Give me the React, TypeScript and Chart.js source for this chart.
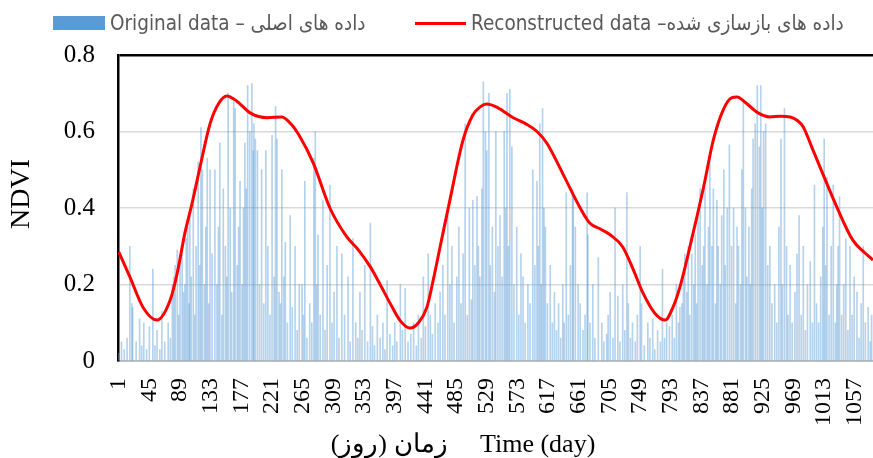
import React, { useEffect, useRef } from 'react';
import { Chart, registerables } from 'chart.js';

Chart.register(...registerables);

// ---- data ----
const xTickLabels = [1, 45, 89, 133, 177, 221, 265, 309, 353, 397, 441, 485, 529, 573, 617, 661, 705, 749, 793, 837, 881, 925, 969, 1013, 1057];

const legendLabels = ['Original data – داده های اصلی', 'Reconstructed data –داده های بازسازی شده'];
const yTitle = 'NDVI';
const xTitle = 'زمان (روز)     Time (day)';

// Original (observed) NDVI, day -> value
const origDays = [
  1, 5, 9, 13, 17, 20, 21, 26, 31, 34, 37, 41, 45, 50, 53, 56, 60, 63, 67, 72, 75, 78, 80, 82, 85, 87, 89, 92, 94, 96, 98,
  100, 102, 103, 105, 108, 110, 112, 115, 117, 119, 121, 124, 126, 128, 130, 132, 135, 139, 142, 144, 146, 149, 151, 154,
  156, 158, 161, 163, 166, 168, 171, 173, 175, 178, 180, 182, 184, 186, 189, 192, 194, 195, 197, 200, 203, 206, 209, 212,
  215, 218, 221, 224, 226, 228, 231, 233, 235, 238, 240, 243, 247, 250, 254, 257, 260, 264, 266, 268, 271, 275, 278, 281,
  283, 285, 287, 290, 294, 297, 300, 304, 307, 310, 314, 317, 321, 325, 330, 333, 337, 341, 344, 347, 350, 354, 358, 362,
  365, 368, 372, 376, 380, 383, 386, 390, 394, 397, 400, 405, 408, 412, 416, 420, 424, 428, 431, 435, 438, 441, 445, 448,
  451, 455, 459, 462, 466, 469, 473, 476, 479, 482, 486, 489, 492, 495, 498, 501, 504, 507, 509, 512, 515, 517, 519, 522,
  524, 527, 529, 532, 534, 537, 540, 542, 545, 548, 551, 554, 556, 558, 560, 562, 565, 568, 572, 575, 578, 581, 584, 588,
  591, 595, 598, 601, 603, 605, 607, 609, 611, 613, 616, 620, 623, 626, 629, 632, 635, 638, 640, 643, 646, 649, 652, 653,
  656, 660, 663, 667, 670, 673, 674, 677, 681, 684, 689, 694, 697, 701, 703, 706, 710, 713, 717, 720, 724, 727, 730, 732,
  735, 738, 742, 745, 749, 751, 755, 760, 763, 767, 770, 774, 778, 781, 784, 787, 791, 795, 798, 801, 804, 806, 809, 811,
  813, 816, 818, 820, 823, 826, 828, 830, 832, 835, 838, 840, 842, 845, 847, 849, 852, 854, 857, 859, 861, 864, 866, 869,
  871, 874, 877, 880, 883, 886, 888, 890, 893, 895, 897, 900, 902, 905, 907, 909, 911, 914, 917, 920, 922, 924, 926, 929,
  932, 935, 938, 942, 945, 948, 951, 953, 956, 959, 961, 964, 967, 971, 974, 977, 980, 983, 986, 989, 993, 996, 999, 1002,
  1005, 1008, 1011, 1013, 1015, 1017, 1020, 1023, 1026, 1029, 1031, 1033, 1035, 1038, 1041, 1044, 1047, 1050, 1053, 1056,
  1060, 1063, 1066, 1069, 1072, 1076, 1079, 1081,
];
const origValues = [
  0.02, 0.05, 0.03, 0.06, 0.30, 0.15, 0.14, 0.05, 0.11, 0.04, 0.10, 0.03, 0.09, 0.24, 0.04, 0.08, 0.03, 0.13, 0.05, 0.10, 0.06, 0.20, 0.22, 0.25, 0.29, 0.12, 0.26, 0.28, 0.18, 0.20, 0.32,
  0.35, 0.15, 0.38, 0.22, 0.45, 0.12, 0.30, 0.52, 0.25, 0.61, 0.50, 0.20, 0.35, 0.53, 0.15, 0.50, 0.28, 0.50, 0.20, 0.35, 0.57, 0.12, 0.45, 0.30,
  0.22, 0.70, 0.40, 0.18, 0.69, 0.66, 0.25, 0.35, 0.47, 0.20, 0.40, 0.57, 0.45, 0.72, 0.60, 0.725, 0.55, 0.62, 0.58, 0.55, 0.20, 0.50, 0.15, 0.55,
  0.30, 0.12, 0.59, 0.22, 0.665, 0.58, 0.18, 0.15, 0.50, 0.22, 0.31, 0.10, 0.38, 0.14, 0.30, 0.08, 0.20, 0.20, 0.12, 0.47, 0.06, 0.15, 0.10, 0.53,
  0.60, 0.20, 0.33, 0.12, 0.42, 0.08, 0.25, 0.46, 0.10, 0.18, 0.30, 0.06, 0.28, 0.12, 0.22, 0.05, 0.32, 0.10, 0.06, 0.18, 0.08, 0.25, 0.05, 0.36,
  0.09, 0.04, 0.12, 0.06, 0.10, 0.03, 0.21, 0.07, 0.04, 0.10, 0.05, 0.20, 0.08, 0.19, 0.05, 0.07, 0.10, 0.04, 0.12, 0.06, 0.22, 0.09, 0.28, 0.12,
  0.07, 0.15, 0.10, 0.18, 0.25, 0.12, 0.38, 0.20, 0.30, 0.10, 0.22, 0.35, 0.15, 0.28, 0.62, 0.12, 0.40, 0.16, 0.42, 0.25, 0.43, 0.30, 0.22, 0.45,
  0.73, 0.60, 0.55, 0.70, 0.25, 0.35, 0.18, 0.60, 0.30, 0.38, 0.22, 0.60, 0.40, 0.70, 0.30, 0.71, 0.56, 0.20, 0.35, 0.12, 0.28, 0.22, 0.10, 0.20,
  0.15, 0.50, 0.25, 0.47, 0.30, 0.62, 0.20, 0.66, 0.40, 0.35, 0.15, 0.25, 0.10, 0.18, 0.08, 0.15, 0.06, 0.20, 0.10, 0.44, 0.12, 0.25, 0.45, 0.43,
  0.35, 0.20, 0.15, 0.08, 0.12, 0.44, 0.33, 0.10, 0.20, 0.06, 0.27, 0.10, 0.05, 0.07, 0.12, 0.18, 0.06, 0.40, 0.17, 0.05, 0.20, 0.08, 0.44, 0.15,
  0.06, 0.10, 0.05, 0.12, 0.30, 0.15, 0.04, 0.10, 0.06, 0.11, 0.03, 0.08, 0.05, 0.24, 0.06, 0.10, 0.09, 0.12, 0.06, 0.20, 0.10, 0.14, 0.15, 0.22,
  0.28, 0.18, 0.30, 0.12, 0.28, 0.20, 0.33, 0.15, 0.38, 0.45, 0.25, 0.30, 0.45, 0.20, 0.35, 0.54, 0.30, 0.45, 0.15, 0.42, 0.30, 0.20, 0.38, 0.50,
  0.25, 0.40, 0.565, 0.30, 0.40, 0.15, 0.35, 0.30, 0.20, 0.50, 0.68, 0.40, 0.22, 0.35, 0.20, 0.45, 0.58, 0.62, 0.72, 0.56, 0.72, 0.40, 0.60, 0.62,
  0.25, 0.30, 0.15, 0.20, 0.10, 0.35, 0.58, 0.20, 0.66, 0.30, 0.12, 0.25, 0.10, 0.18, 0.28, 0.38, 0.12, 0.30, 0.08, 0.20, 0.26, 0.10, 0.46, 0.15,
  0.10, 0.22, 0.35, 0.58, 0.25, 0.48, 0.12, 0.30, 0.46, 0.10, 0.20, 0.30, 0.43, 0.12, 0.20, 0.32, 0.08, 0.30, 0.12, 0.22,
  0.18, 0.06, 0.15, 0.30, 0.10, 0.14, 0.05, 0.12,
];

// Reconstructed (smoothed) NDVI, read at sample days
const reconDays = [
  1, 17, 36, 56, 75, 85, 96, 106, 118, 132, 145, 156, 170, 190, 214, 235, 248, 261, 280, 304, 328, 345, 362, 376, 390, 405,
  419, 431, 443, 452, 462, 476, 495, 509, 520, 529, 545, 567, 585, 601, 615, 638, 663, 677, 692, 706, 724, 740, 753, 770,
  785, 796, 806, 825, 840, 854, 868, 880, 888, 900, 917, 935, 950, 964, 975, 983, 995, 1007, 1031, 1054, 1070, 1083,
];
const reconValues = [
  0.285, 0.22, 0.14, 0.107, 0.16, 0.23, 0.335, 0.41, 0.51, 0.62, 0.675, 0.693, 0.68, 0.648, 0.636, 0.638, 0.62, 0.586, 0.518, 0.40, 0.325, 0.29, 0.246, 0.20, 0.152, 0.105,
  0.086, 0.10, 0.14, 0.21, 0.298, 0.42, 0.578, 0.643, 0.665, 0.672, 0.662, 0.636, 0.62, 0.60, 0.57, 0.49, 0.40, 0.36, 0.345, 0.33, 0.298, 0.235, 0.178, 0.125,
  0.107, 0.14, 0.193, 0.335, 0.455, 0.578, 0.656, 0.688, 0.69, 0.676, 0.65, 0.638, 0.64, 0.638, 0.628, 0.612, 0.56, 0.507, 0.403, 0.316, 0.285, 0.264,
];

const SERIF = "'Liberation Serif', 'Times New Roman', serif";
const LEGEND_FONT = "'Liberation Sans Narrow', 'DejaVu Sans Condensed', 'Liberation Sans', sans-serif";

export default function App() {
  const canvasRef = useRef<HTMLCanvasElement | null>(null);

  useEffect(() => {
    if (!canvasRef.current) return;
    const chart = new Chart(canvasRef.current, {
      type: 'bar',
      data: {
        datasets: [
          {
            type: 'bar',
            label: legendLabels[0],
            data: origDays.map((d, i) => ({ x: d, y: origValues[i] })),
            backgroundColor: 'rgba(91,155,213,0.45)',
            barThickness: 1,
            order: 2,
          } as any,
          {
            type: 'line',
            label: legendLabels[1],
            data: reconDays.map((d, i) => ({ x: d, y: reconValues[i] })),
            borderColor: '#FF0000',
            backgroundColor: '#FF0000',
            borderWidth: 3,
            pointRadius: 0,
            cubicInterpolationMode: 'monotone',
            fill: false,
            order: 1,
          } as any,
        ],
      },
      options: {
        animation: false,
        responsive: true,
        maintainAspectRatio: false,
        layout: { padding: { top: 55, left: 0, right: 0, bottom: 0 } },
        plugins: {
          legend: { display: false },
          tooltip: { enabled: false },
        },
        scales: {
          x: {
            type: 'linear',
            min: 0,
            max: 1083,
            offset: false,
            afterBuildTicks: (scale: any) => {
              scale.ticks = xTickLabels.map((v) => ({ value: v }));
            },
            afterFit: (scale: any) => {
              scale.height = 97;
              scale.paddingRight = 0;
              scale.paddingLeft = 0;
            },
            ticks: {
              autoSkip: false,
              minRotation: 90,
              maxRotation: 90,
              padding: 17,
              color: '#000',
              font: { family: SERIF, size: 24 },
              callback: (v: any) => String(v),
            },
            grid: { display: false, drawTicks: false },
            border: { display: true, color: '#BFBFBF', width: 2 },
            title: {
              display: true,
              text: xTitle + '          ',
              color: '#000',
              font: { family: SERIF, size: 26, lineHeight: 1 },
              padding: { top: 0, bottom: 0 },
            },
          },
          y: {
            min: 0,
            max: 0.8,
            afterFit: (scale: any) => {
              scale.width = 118;
            },
            ticks: {
              stepSize: 0.2,
              padding: 23,
              color: '#000',
              font: { family: SERIF, size: 25 },
              callback: (v: any) => String(Number(Number(v).toFixed(1))),
            },
            grid: {
              drawTicks: false,
              color: (ctx: any) => {
                const v = ctx.tick ? ctx.tick.value : 0;
                if (Math.abs(v - 0.8) < 1e-6) return '#000';
                if (Math.abs(v) < 1e-6) return 'rgba(0,0,0,0)';
                return '#D9D9D9';
              },
              lineWidth: (ctx: any) => {
                const v = ctx.tick ? ctx.tick.value : 0;
                return Math.abs(v - 0.8) < 1e-6 ? 2.5 : 1.5;
              },
            },
            border: { display: true, color: '#000', width: 2.5 },
            title: {
              display: true,
              text: '    ' + yTitle,
              color: '#000',
              font: { family: SERIF, size: 28 },
              padding: { top: 5, bottom: 0 },
            },
          },
        },
      } as any,
    });
    return () => chart.destroy();
  }, []);

  const legendText: React.CSSProperties = {
    position: 'absolute',
    top: 10,
    height: 26,
    lineHeight: '26px',
    fontFamily: LEGEND_FONT,
    fontSize: 20.5,
    color: '#595959',
    whiteSpace: 'nowrap',
  };

  return (
    <div style={{ position: 'absolute', left: 0, top: 0, width: 873, height: 458, background: '#fff' }}>
      <canvas ref={canvasRef} style={{ position: 'absolute', left: 0, top: 0, width: 873, height: 458 }} />
      <div style={{ position: 'absolute', left: 53, top: 16, width: 52, height: 14, background: '#5B9BD5' }} />
      <div style={{ ...legendText, left: 110 }}>{legendLabels[0]}</div>
      <div style={{ position: 'absolute', left: 415, top: 22, width: 51, height: 3, background: '#FF0000' }} />
      <div style={{ ...legendText, left: 471 }}>{legendLabels[1]}</div>
    </div>
  );
}
